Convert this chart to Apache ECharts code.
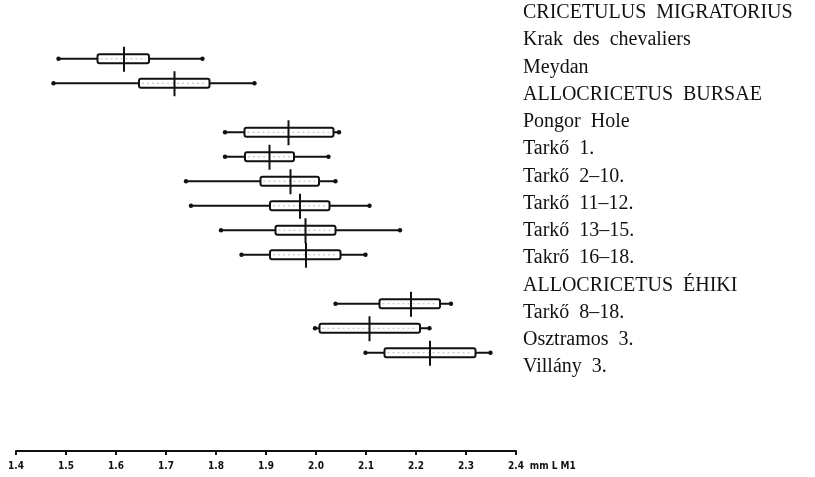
<!DOCTYPE html>
<html>
<head>
<meta charset="utf-8">
<script src="https://cdn.jsdelivr.net/npm/echarts@6/dist/echarts.min.js"></script>
<style>
  html, body { margin: 0; padding: 0; background: #fff; }
  #chart { width: 815px; height: 477px; }
</style>
</head>
<body>
<div id="chart"></div>
<script>
// row labels (headers have no box)
const rowLabels = [
  'CRICETULUS  MIGRATORIUS',
  'Krak  des  chevaliers',
  'Meydan',
  'ALLOCRICETUS  BURSAE',
  'Pongor  Hole',
  'Tarkő  1.',
  'Tarkő  2–10.',
  'Tarkő  11–12.',
  'Tarkő  13–15.',
  'Takrő  16–18.',
  'ALLOCRICETUS  ÉHIKI',
  'Tarkő  8–18.',
  'Osztramos  3.',
  'Villány  3.'
];

// min, lower box, mean, upper box, max  (null = header row)
const mins    = [null, 1.485, 1.475, null, 1.818, 1.818, 1.740, 1.750, 1.810, 1.851, null, 2.039, 1.998, 2.099];
const boxLows = [null, 1.563, 1.646, null, 1.857, 1.858, 1.889, 1.908, 1.919, 1.908, null, 2.127, 2.007, 2.137];
const means   = [null, 1.616, 1.717, null, 1.945, 1.907, 1.949, 1.968, 1.979, 1.980, null, 2.190, 2.107, 2.228];
const boxHighs= [null, 1.666, 1.787, null, 2.035, 1.956, 2.006, 2.027, 2.039, 2.049, null, 2.248, 2.208, 2.319];
const maxs    = [null, 1.773, 1.877, null, 2.046, 2.025, 2.039, 2.107, 2.168, 2.099, null, 2.270, 2.227, 2.349];

const tickValues = [1.4, 1.5, 1.6, 1.7, 1.8, 1.9, 2.0, 2.1, 2.2, 2.3, 2.4];

const rows = [];
rowLabels.forEach((lab, i) => {
  if (mins[i] !== null) rows.push([i, mins[i], boxLows[i], means[i], boxHighs[i], maxs[i]]);
});

const ink = '#111';

function renderBox(params, api) {
  const idx = api.value(0);
  const pMin = api.coord([api.value(1), idx]);
  const pLo = api.coord([api.value(2), idx]);
  const pMed = api.coord([api.value(3), idx]);
  const pHi = api.coord([api.value(4), idx]);
  const pMax = api.coord([api.value(5), idx]);
  const y = pMed[1];
  const h = 9;
  const lineStyle = { stroke: ink, lineWidth: 2, fill: null };
  return {
    type: 'group',
    children: [
      { type: 'line', shape: { x1: pMin[0], y1: y, x2: pMax[0], y2: y }, style: lineStyle },
      { type: 'rect', shape: { x: pLo[0], y: y - h / 2, width: pHi[0] - pLo[0], height: h, r: 2 },
        style: { fill: '#fff', stroke: ink, lineWidth: 2 } },
      { type: 'line', shape: { x1: pLo[0] + 3, y1: y, x2: pHi[0] - 3, y2: y },
        style: { stroke: '#bbb', lineWidth: 1, lineDash: [2, 3] } },
      { type: 'line', shape: { x1: pMed[0], y1: y - 12, x2: pMed[0], y2: y + 13 }, style: lineStyle },
      { type: 'circle', shape: { cx: pMin[0], cy: y, r: 2.2 }, style: { fill: ink } },
      { type: 'circle', shape: { cx: pMax[0], cy: y, r: 2.2 }, style: { fill: ink } }
    ]
  };
}

const chart = echarts.init(document.getElementById('chart'));
chart.setOption({
  animation: false,
  backgroundColor: '#fff',
  grid: [
    { left: 16, width: 500, top: 22, height: 343 },
    { left: 523, width: 10, top: 13, height: 354 }
  ],
  xAxis: [
    {
      type: 'value', gridIndex: 0, min: 1.4, max: 2.4, interval: 0.1,
      position: 'bottom', offset: 86,
      splitLine: { show: false },
      axisLine: { show: true, lineStyle: { color: ink, width: 2 } },
      axisTick: { show: true, length: 4, lineStyle: { color: ink, width: 2 } },
      axisLabel: {
        color: ink, fontFamily: 'DejaVu Sans Condensed', fontWeight: 'bold', fontSize: 10, margin: 10,
        formatter: v => {
          const t = tickValues.find(k => Math.abs(k - v) < 1e-6);
          return t === undefined ? '' : t.toFixed(1);
        }
      },
      name: 'mm L M1', nameLocation: 'end', nameGap: 5,
      nameTextStyle: { color: ink, fontFamily: 'DejaVu Sans Condensed', fontWeight: 'bold', fontSize: 10,
        verticalAlign: 'top', padding: [10, 0, 0, 0] }
    },
    { type: 'value', gridIndex: 1, show: false }
  ],
  yAxis: [
    {
      type: 'category', gridIndex: 0, data: rowLabels, inverse: true, show: false
    },
    {
      type: 'category', gridIndex: 1, data: rowLabels, inverse: true, boundaryGap: false,
      axisLine: { show: false }, axisTick: { show: false }, splitLine: { show: false },
      axisLabel: {
        inside: true, margin: 0, align: 'left', interval: 0,
        color: ink, fontFamily: 'Liberation Serif', fontSize: 20
      }
    }
  ],
  series: [
    {
      type: 'custom', xAxisIndex: 0, yAxisIndex: 0,
      renderItem: renderBox,
      encode: { x: [1, 2, 3, 4, 5], y: 0 },
      data: rows
    }
  ]
});
</script>
</body>
</html>
